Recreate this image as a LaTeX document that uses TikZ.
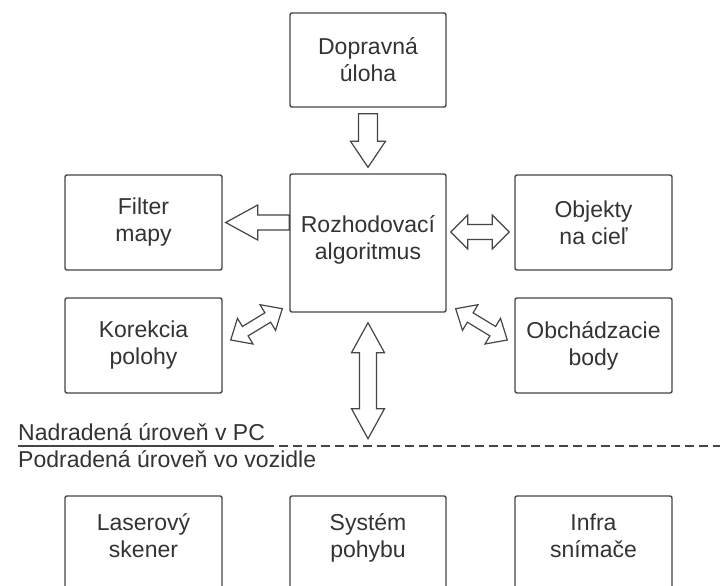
\documentclass[tikz,border=0pt]{standalone}
\usepackage{fontspec}
\setmainfont{Liberation Sans}
\usetikzlibrary{calc}
\definecolor{ink}{HTML}{333333}
\definecolor{edge}{HTML}{454545}
\tikzset{
  box/.style={draw=edge, line width=1.4pt, rounded corners=2pt, minimum width=157pt,
    minimum height=95pt, align=center, inner sep=0pt, text=ink,
    font=\fontsize{23}{27}\selectfont},
  blk/.style={draw=edge, line width=1.2pt, fill=white, line join=miter},
  lbl/.style={anchor=base west, inner sep=0pt, text=ink, font=\fontsize{23}{27}\selectfont},
  divider/.style={draw=edge, line width=1.8pt, dash pattern=on 9pt off 5pt},
}
\newcommand{\sarrow}[5]{% start, tip, shaft half width, head half width, head length
  \coordinate (nk) at ($(#2)!#5!(#1)$);
  \draw[blk] ($(#1)!#3!90:(#2)$) -- ($(nk)!#3!90:(#2)$) -- ($(nk)!#4!90:(#2)$) -- (#2)
    -- ($(nk)!#4!-90:(#2)$) -- ($(nk)!#3!-90:(#2)$) -- ($(#1)!#3!-90:(#2)$) -- cycle;
}
\newcommand{\darrow}[5]{% tip A, tip B, shaft half width, head half width, head length
  \coordinate (na) at ($(#1)!#5!(#2)$);
  \coordinate (nb) at ($(#2)!#5!(#1)$);
  \draw[blk] (#1) -- ($(na)!#4!90:(#2)$) -- ($(na)!#3!90:(#2)$) -- ($(nb)!#3!-90:(#1)$)
    -- ($(nb)!#4!-90:(#1)$) -- (#2) -- ($(nb)!#4!90:(#1)$) -- ($(nb)!#3!90:(#1)$)
    -- ($(na)!#3!-90:(#2)$) -- ($(na)!#4!-90:(#2)$) -- cycle;
}
\begin{document}
\begin{tikzpicture}[x=1pt, y=-1pt]
\useasboundingbox (0,0) rectangle (720,586);
\clip (0,0) rectangle (720,586);

% boxes
\node[box, minimum width=156pt, minimum height=94pt] (dop) at (368,60) {Dopravná\\úloha};
\node[box, minimum width=156pt, minimum height=138pt, text depth=10pt] (roz) at (368,243) {Rozhodovací\\algoritmus};
\node[box] (fil) at (143.5,222.5) {Filter\\mapy};
\node[box] (obj) at (593.5,222.5) {Objekty\\na cieľ};
\node[box] (kor) at (143.5,345.5) {Korekcia\\polohy};
\node[box] (obc) at (593.5,345.5) {Obchádzacie\\body};
\node[box, text depth=16pt] (las) at (143.5,543.5) {Laserový\\skener};
\node[box, minimum width=156pt, text depth=16pt] (sys) at (368,543.5) {Systém\\pohybu};
\node[box, text depth=16pt] (inf) at (593.5,543.5) {Infra\\snímače};

% level labels and divider
\node[lbl] (nad) at (18,440) {Nadradená úroveň v PC};
\node[lbl] (pod) at (18,467) {Podradená úroveň vo vozidle};
\coordinate (ul) at ($(nad.base east)+(0,6)$);
\coordinate (dashend) at (720,446);
\draw[draw=edge, line width=1.4pt] ($(nad.base west)+(0,6)$) -- (ul);
\draw[divider] (ul) -- (ul -| dashend);

% block arrows
\coordinate (a1s) at ($(dop.south)+(0,6)$);
\coordinate (a1t) at ($(roz.north)+(0,-6)$);
\sarrow{a1s}{a1t}{9.5pt}{17.5pt}{26pt}

\coordinate (a2s) at ($(roz.west)+(0,-20.5)$);
\coordinate (a2t) at ($(fil.east)+(3,0)$);
\sarrow{a2s}{a2t}{7.5pt}{17.5pt}{32pt}

\coordinate (a3a) at ($(roz.east)+(4,-11)$);
\coordinate (a3b) at ($(obj.west)+(-5,9.5)$);
\darrow{a3a}{a3b}{7.5pt}{17pt}{17pt}

\coordinate (a4a) at ($(kor.east)+(8,-5.5)$);
\coordinate (a4b) at ($(roz.south west)+(-7,-4)$);
\darrow{a4a}{a4b}{5.5pt}{15pt}{17pt}

\coordinate (a5a) at ($(roz.south east)+(9,-4)$);
\coordinate (a5b) at ($(obc.west)+(-7,-5.5)$);
\darrow{a5a}{a5b}{5.5pt}{15pt}{17pt}

\coordinate (a6a) at ($(roz.south)+(0,10)$);
\coordinate (lvl) at ($(roz.south)+(0,126)$);
\darrow{a6a}{lvl}{8.5pt}{16.5pt}{30pt}
\end{tikzpicture}
\end{document}
